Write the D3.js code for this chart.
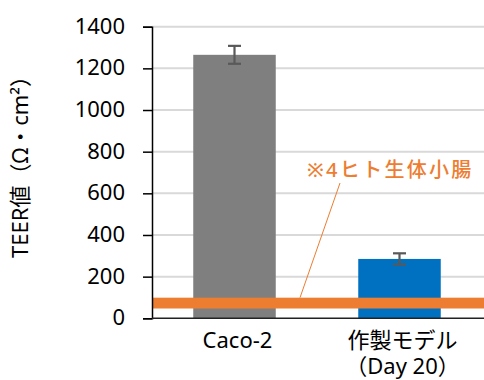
<!DOCTYPE html>
<html><head><meta charset="utf-8">
<script src="https://cdn.jsdelivr.net/npm/d3@7"></script>
<style>
html,body{margin:0;padding:0;background:#fff;}
svg{display:block;font-family:"Noto Sans","Noto Sans CJK JP",sans-serif;}
</style></head>
<body>
<svg id="c" width="484" height="380"></svg>
<script>
const categories = [["Caco-2"], ["作製モデル", "（Day 20）"]];
const values = [1265, 285];
const errors = [43, 27];
const barColors = ["#7F7F7F", "#0070C0"];
const yTicks = [0, 200, 400, 600, 800, 1000, 1200, 1400];
const humanRange = [47, 99];
const humanLabel = "※4ヒト生体小腸";
const yTitle = "TEER値（Ω・cm²）";

(function () {
const svg = d3.select("#c");
const pl = 152, pr = 482, pt = 26.7, pb = 318.3;
const x = d3.scaleBand().domain(d3.range(values.length)).range([pl, pr]).paddingInner(0.5).paddingOuter(0.25);
const y = d3.scaleLinear().domain([0, 1400]).range([pb, pt]);

// gridlines
svg.append("g").selectAll("line").data(yTicks.filter(d => d > 0)).join("line")
  .attr("x1", pl).attr("x2", 484).attr("y1", d => y(d)).attr("y2", d => y(d))
  .attr("stroke", "#D9D9D9").attr("stroke-width", 2);

// bars
svg.append("g").selectAll("rect").data(values).join("rect")
  .attr("x", (d, i) => x(i)).attr("width", x.bandwidth())
  .attr("y", d => y(d)).attr("height", d => y(0) - y(d))
  .attr("fill", (d, i) => barColors[i]);

// error bars
const eg = svg.append("g").attr("stroke", "#595959").attr("stroke-width", 2.2);
values.forEach((v, i) => {
  const cx = x(i) + x.bandwidth() / 2;
  eg.append("line").attr("x1", cx).attr("x2", cx).attr("y1", y(v + errors[i])).attr("y2", y(v - errors[i]));
  eg.append("line").attr("x1", cx - 6.5).attr("x2", cx + 6.5).attr("y1", y(v + errors[i])).attr("y2", y(v + errors[i]));
  eg.append("line").attr("x1", cx - 6.5).attr("x2", cx + 6.5).attr("y1", y(v - errors[i])).attr("y2", y(v - errors[i]));
});

// human intestine band
svg.append("rect").attr("x", pl).attr("width", 484 - pl)
  .attr("y", y(humanRange[1])).attr("height", y(humanRange[0]) - y(humanRange[1]))
  .attr("fill", "#ED7D31");

// leader line and label
svg.append("line").attr("x1", 300).attr("y1", y(humanRange[1]))
  .attr("x2", 340).attr("y2", 183).attr("stroke", "#ED7D31").attr("stroke-width", 1);
svg.append("text").attr("x", 307).attr("y", 177)
  .attr("fill", "#ED7D31").attr("font-size", 20).attr("font-weight", 500).attr("letter-spacing", 2.3)
  .text(humanLabel);

// y axis
const ya = svg.append("g").attr("transform", `translate(${pl},0)`)
  .call(d3.axisLeft(y).tickValues(yTicks).tickSize(9).tickPadding(18).tickFormat(d3.format("d")));
ya.select(".domain").attr("stroke", "#000").attr("stroke-width", 1.5);
ya.selectAll(".tick line").attr("stroke", "#000").attr("stroke-width", 1.5);
ya.selectAll(".tick text").attr("font-size", 22).attr("fill", "#000")
  .attr("font-family", "\"Noto Sans\",sans-serif").attr("dy", "0.3em");

// x axis baseline
svg.append("line").attr("x1", pl).attr("x2", 484).attr("y1", y(0)).attr("y2", y(0))
  .attr("stroke", "#222").attr("stroke-width", 1.5);

// x labels
categories.forEach((lines, i) => {
  const cx = x(i) + x.bandwidth() / 2 + 3;
  const t = svg.append("text").attr("text-anchor", "middle").attr("font-size", 22).attr("fill", "#000");
  lines.forEach((l, j) => t.append("tspan").attr("x", cx).attr("y", 348 + j * 26).text(l));
});

// y title
svg.append("text").attr("transform", "translate(28,161.5) rotate(-90)")
  .attr("text-anchor", "middle").attr("font-size", 22).attr("fill", "#000").text(yTitle);
})();
</script>
</body></html>
